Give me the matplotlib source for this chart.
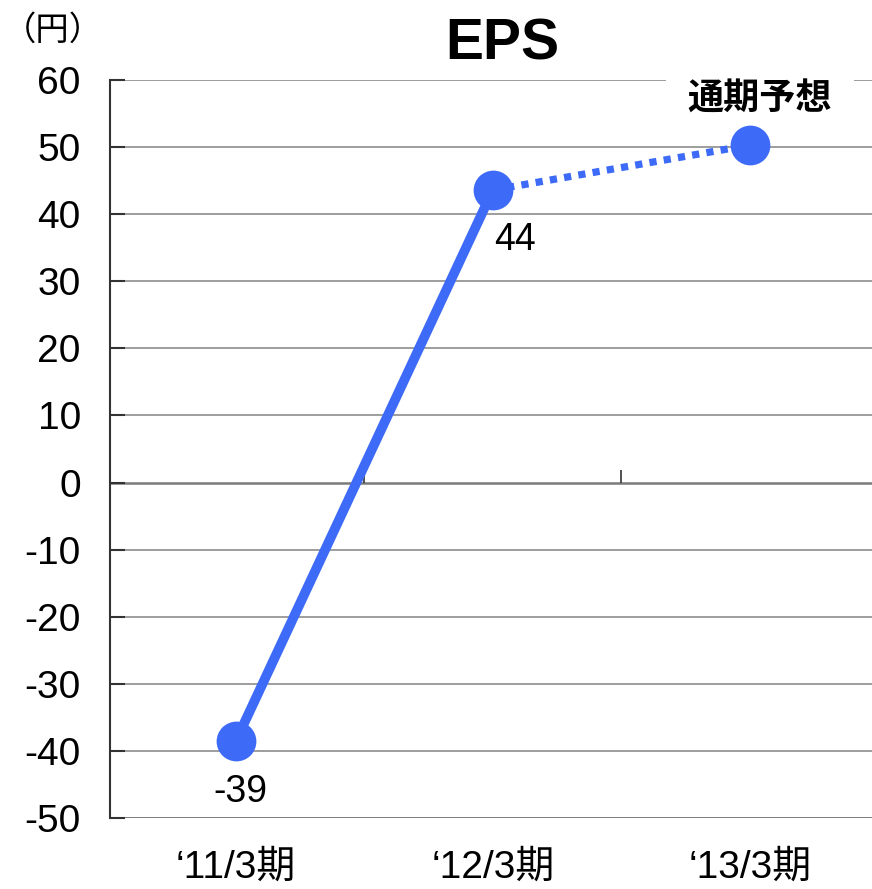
import matplotlib
matplotlib.use("Agg")
import matplotlib.pyplot as plt

categories = ["\u201811/3期", "\u201812/3期", "\u201813/3期"]
actual_values = [-38.5, 43.6]
forecast_value = 50.3
data_labels = ["-39", "44"]
forecast_label = "通期予想"
y_ticks = [-50, -40, -30, -20, -10, 0, 10, 20, 30, 40, 50, 60]
title = "EPS"
unit_label = "（円）"

plt.rcParams['font.family'] = ['Liberation Sans', 'Noto Sans CJK JP', 'DejaVu Sans']

blue = "#3d6bf7"
grid_c = "#8c8c8c"

fig = plt.figure(figsize=(8.72, 8.89), dpi=100)
ax = fig.add_axes([110/872, 71/889, 1 - 110/872, (818-80)/889])

xs = list(range(len(categories)))
ax.set_xlim(-0.49, 2.475)
ax.set_ylim(min(y_ticks), max(y_ticks))

for v in y_ticks:
    if v == 0:
        ax.axhline(v, color="#7a7a7a", lw=1.8, zorder=1)
    elif v == min(y_ticks):
        ax.axhline(v, color="#707070", lw=2.0, zorder=1)
    else:
        ax.axhline(v, color=grid_c, lw=1.2, zorder=1)

# category boundary ticks on zero line
bounds = [i + 0.5 for i in xs[:-1]]
ax.vlines(bounds, 0, 1.8, color="#333333", lw=1.2, zorder=2)

# solid actual line
ax.plot(xs[:len(actual_values)], actual_values, color=blue, lw=7, solid_capstyle='butt', zorder=3)
# dotted forecast line
ax.plot([xs[len(actual_values)-1], xs[len(actual_values)]], [actual_values[-1], forecast_value],
        color=blue, lw=5.2, linestyle=(0, (1, 1)), dash_capstyle='butt', zorder=3)
ax.scatter(xs, actual_values + [forecast_value], s=820, color=blue, zorder=6, linewidths=0)

label_offsets = [(3, -37), (16, -36)]
for x, v, lab, off in zip(xs, actual_values, data_labels, label_offsets):
    ax.annotate(lab, (x, v), xytext=off, textcoords='offset points',
                ha='center', va='center', fontsize=27, color='black')

ax.annotate(forecast_label, (xs[-1], forecast_value), xytext=(7, 33), textcoords='offset points',
            ha='center', va='center', fontsize=26, fontweight='bold', color='black',
            family=['Noto Sans CJK JP'],
            bbox=dict(boxstyle='square,pad=0.6', fc='white', ec='none'), zorder=5)

for s in ['top', 'right', 'bottom']:
    ax.spines[s].set_visible(False)
ax.spines['left'].set_color('#333333')
ax.spines['left'].set_linewidth(1.5)

ax.set_yticks(y_ticks)
ax.set_yticklabels([str(v) for v in y_ticks], fontsize=28)
ax.tick_params(axis='y', direction='in', length=11, width=1.5, color='#333333', pad=21)

ax.set_xticks(xs)
ax.set_xticklabels(categories, fontsize=28)
ax.tick_params(axis='x', length=0, pad=23)

fig.text(502/872, 1 - 45/889, title, ha='center', va='center', fontsize=41, fontweight='bold')
fig.text(53/872, 1 - 30/889, unit_label, ha='center', va='center', fontsize=24,
         family=['Noto Sans CJK JP'])

fig.savefig("out.png", dpi=100)
